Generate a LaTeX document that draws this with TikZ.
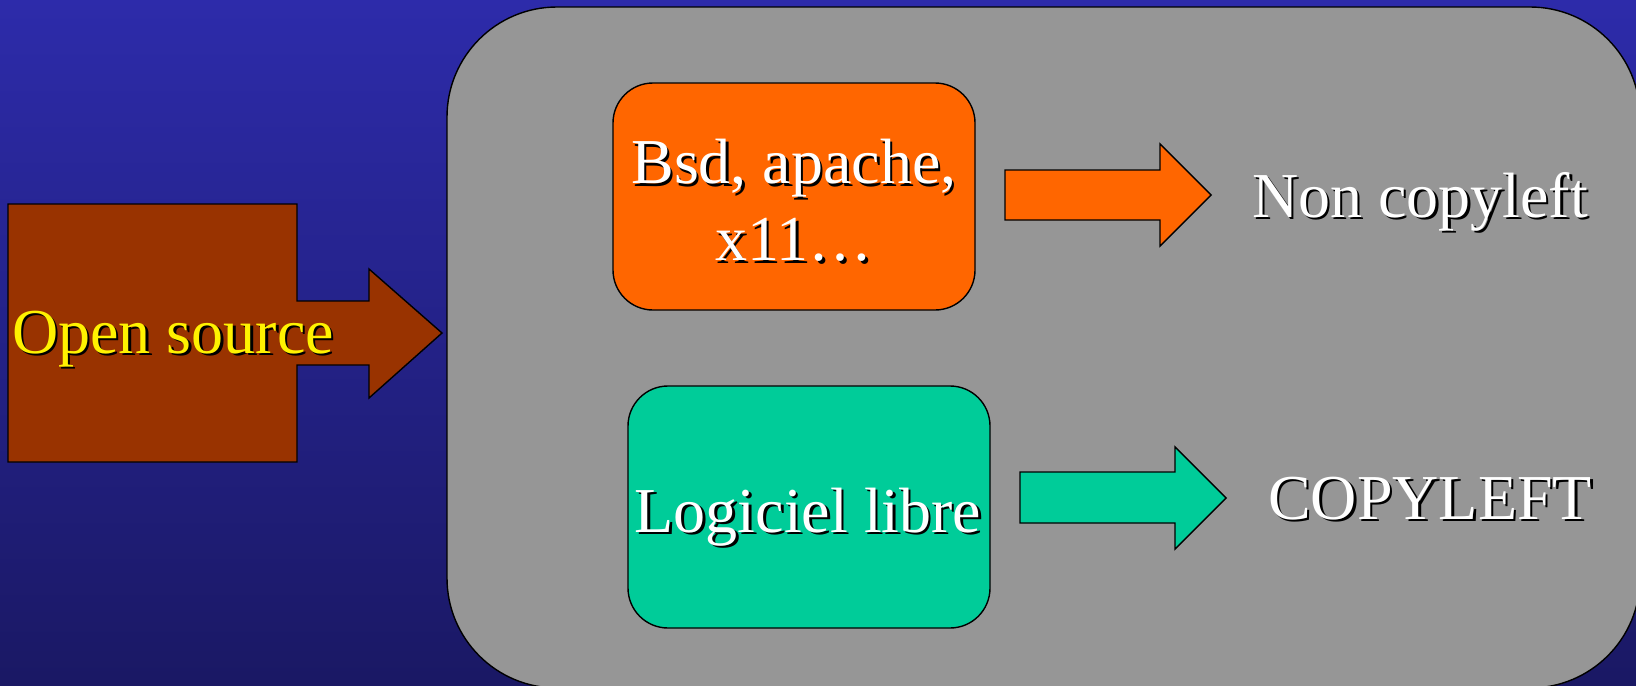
\documentclass[tikz,border=0pt]{standalone}
\usepackage{fontspec}
\setmainfont{Liberation Serif}
\usetikzlibrary{positioning}

\definecolor{slidetop}{RGB}{45,43,170}
\definecolor{slidebottom}{RGB}{26,24,100}
\definecolor{panelgray}{RGB}{150,150,150}
\definecolor{bsdorange}{RGB}{255,102,0}
\definecolor{librgreen}{RGB}{0,204,153}
\definecolor{osbrown}{RGB}{153,51,0}

% text with a small black drop shadow
\newcommand{\shadowed}[2]{\makebox[0pt][l]{\hspace{1.2pt}\raisebox{-1.2pt}{\color{black}#2}}{\color{#1}#2}}

\begin{document}
\begin{tikzpicture}[x=0.5pt,y=-0.5pt,
    every node/.style={font=\fontsize{32}{38.5}\selectfont},
    box/.style={draw=black,line width=0.7pt,rounded corners=20pt,minimum width=181pt,inner sep=0pt},
    blockarrow/.style={draw=black,line width=0.7pt}]
    \useasboundingbox (0,0) rectangle (1636,685);
    \clip (0,0) rectangle (1636,685);
    \shade[top color=slidetop,bottom color=slidebottom] (0,0) rectangle (1636,685);

    \node[draw=black,line width=0.7pt,fill=panelgray,rounded corners=55pt,minimum width=596.5pt,minimum height=340.5pt,inner sep=0pt] (panel) at (1043.5,347.5) {};

    % open source callout
    \draw[blockarrow,fill=osbrown] (8,204) -- (297,204) -- (297,301) -- (369,301) -- (369,269) -- (442,333)
        -- (369,398) -- (369,365) -- (297,365) -- (297,462) -- (8,462) -- cycle;
    \node[anchor=base] (opensrc) at (173,353) {\shadowed{yellow}{Open source}};

    \node[box,fill=bsdorange,minimum height=113.5pt] (bsd) at (794,196.5) {};
    \node[anchor=north,align=center,inner sep=0pt] (bsdtext) at (794,139) {\shadowed{white}{Bsd, apache,}\\\shadowed{white}{x11…}};
    \node[box,fill=librgreen,minimum height=121pt] (libre) at (809,507) {};
    \node[anchor=base] (libretext) at (808,532) {\shadowed{white}{Logiciel libre}};

    \draw[blockarrow,fill=bsdorange] (1005,170) -- (1160,170) -- (1160,144) -- (1211,195) -- (1160,246) -- (1160,220) -- (1005,220) -- cycle;
    \draw[blockarrow,fill=librgreen] (1020,472) -- (1175,472) -- (1175,447) -- (1226,498) -- (1175,549) -- (1175,523) -- (1020,523) -- cycle;

    \node[anchor=base] (noncopy) at (1420,217) {\shadowed{white}{Non copyleft}};
    \node[anchor=base] (copyleft) at (1430,519) {\shadowed{white}{COPYLEFT}};
\end{tikzpicture}
\end{document}
